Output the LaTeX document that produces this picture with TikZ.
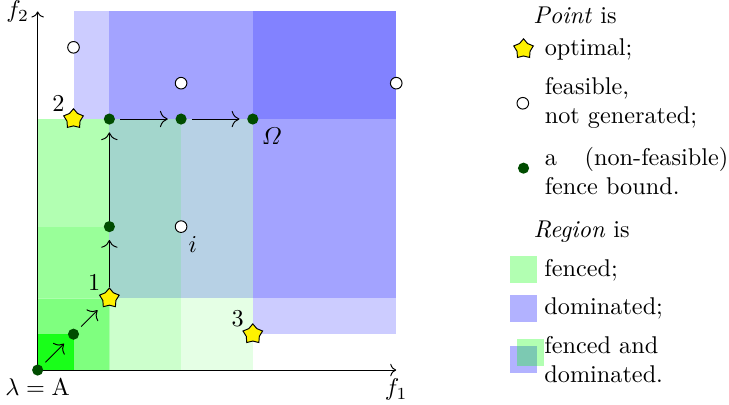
\documentclass[tikz,border=0pt]{standalone}
\usepackage{amsmath}
\usetikzlibrary{shapes.geometric,arrows.meta}
\begin{document}
\begin{tikzpicture}[x=0.52cm,y=0.52cm,
  fence/.style={circle, fill=green!30!black, inner sep=0pt, minimum size=4.6pt},
  feas/.style={circle, draw=black, fill=white, inner sep=0pt, minimum size=4.8pt, line width=0.4pt},
  opt/.style={star, star points=5, draw=black, fill=yellow, inner sep=0pt, minimum size=8.5pt, line width=0.4pt},
  arr/.style={-{To[scale=1.3]}, shorten >=3pt},
  dom/.style={fill=blue, fill opacity=0.2},
  legtext/.style={anchor=west, inner sep=0pt, align=left},
]
\useasboundingbox (-1.05,-0.95) rectangle (19.28,10.32);
% dominated regions
\fill[dom] (1,7) rectangle (10,10);
\fill[dom] (2,2) rectangle (10,10);
\fill[dom] (6,1) rectangle (10,10);
% fenced regions
\fill[green, fill opacity=0.1] (4,0) rectangle (6,7);
\fill[green, fill opacity=0.2] (2,0) rectangle (4,7);
\fill[green, fill opacity=0.3] (0,4) rectangle (2,7);
\fill[green, fill opacity=0.4] (0,2) rectangle (2,4);
\fill[green, fill opacity=0.5] (1,0) rectangle (2,1) (0,1) rectangle (2,2);
\fill[green, fill opacity=0.9] (0,0) rectangle (1,1);
% axes
\coordinate (O) at (0,0);
\coordinate (xend) at (10,0);
\coordinate (yend) at (0,10);
\draw[->] (O) -- (xend) node[below] (f1) {$f_1$};
\draw[->] (O) -- (yend) node[left] (f2) {$f_2$};
\node[below] (lam) at (O) {$\lambda=\mathrm{A}$};
% points
\node[fence] (b0) at (0,0) {};
\node[fence] (b1) at (1,1) {};
\node[opt] (s1) at (2,2) {};
\node[fence] (b2) at (2,4) {};
\node[fence] (b3) at (2,7) {};
\node[fence] (b4) at (4,7) {};
\node[fence] (b5) at (6,7) {};
\node[opt] (s2) at (1,7) {};
\node[opt] (s3) at (6,1) {};
\node[feas] (c1) at (1,9) {};
\node[feas] (c2) at (4,8) {};
\node[feas] (c3) at (10,8) {};
\node[feas] (c4) at (4,4) {};
% arrows
\draw[arr, shorten <=2pt] (b0) -- (b1);
\draw[arr, shorten <=2pt] (b1) -- (s1);
\draw[arr] (s1) -- (b2);
\draw[arr] (b2) -- (b3);
\draw[arr, shorten <=2pt] (b3) -- (b4);
\draw[arr, shorten <=2pt] (b4) -- (b5);
% labels
\node (l1) at ([shift={(-0.42,0.44)}]s1) {1};
\node (l2) at ([shift={(-0.42,0.43)}]s2) {2};
\node (l3) at ([shift={(-0.42,0.44)}]s3) {3};
\node (li) at (4.33,3.51) {$i$};
\node (lo) at (6.53,6.51) {$\varOmega$};
% legend: points
\node[legtext] (lp) at (13.81,9.90) {\textit{Point} is};
\node[opt] (lstar) at (13.55,8.95) {};
\node[legtext] (lopt) at (14.13,8.95) {optimal;};
\node[feas] (lcirc) at (13.53,7.44) {};
\node[legtext] (lfeas) at (14.13,7.46) {feasible,\\not generated;};
\node[fence] (ldot) at (13.55,5.63) {};
\node[legtext] (lfen) at (14.13,5.54) {\makebox[2.66cm][s]{a (non-feasible)}\\fence bound.};
% legend: regions
\node[legtext] (lr) at (13.82,3.86) {\textit{Region} is};
\fill[green, fill opacity=0.3] (13.17,2.44) rectangle (13.92,3.18);
\node[legtext] (lrf) at (14.12,2.79) {fenced;};
\fill[blue, fill opacity=0.3] (13.17,1.35) rectangle (13.92,2.09);
\node[legtext] (lrd) at (14.12,1.73) {dominated;};
\fill[blue, fill opacity=0.3] (13.17,-0.08) rectangle (13.92,0.68);
\fill[green, fill opacity=0.3] (13.36,0.12) rectangle (14.12,0.87);
\node[legtext] (lrfd) at (14.12,0.28) {fenced and\\dominated.};
\end{tikzpicture}
\end{document}
